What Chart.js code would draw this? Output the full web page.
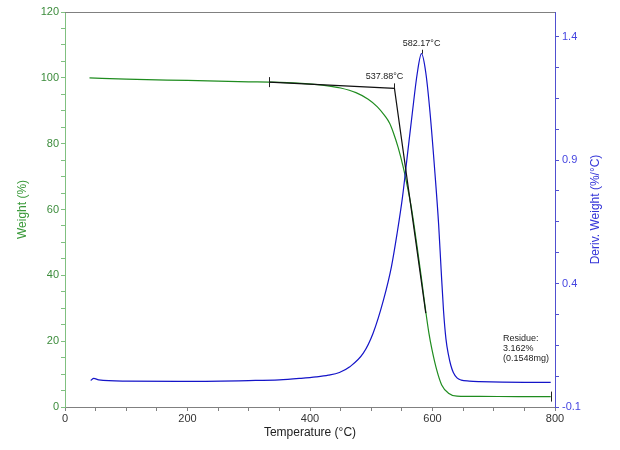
<!DOCTYPE html>
<html>
<head>
<meta charset="utf-8">
<script src="https://cdn.jsdelivr.net/npm/chart.js@4"></script>
<style>
  html, body { margin: 0; padding: 0; background: #fff; }
  #wrap { width: 620px; height: 450px; }
</style>
</head>
<body>
<div id="wrap"><canvas id="tga"></canvas></div>
<script>
// Weight loss curve (%)
const weightTemps = [40, 100, 200, 300, 333, 380, 420, 450, 475, 495, 510, 522, 530, 536, 544, 552, 560, 566, 575, 582, 589, 594, 599, 607, 615, 626, 640, 677, 740, 793];
const weightVals  = [100.0, 99.6, 99.2, 98.8, 98.7, 98.4, 97.8, 96.9, 95.5, 93.5, 91.2, 88.5, 86.2, 83.4, 78.8, 73.0, 66.0, 60.0, 48.5, 39.0, 29.0, 22.6, 17.6, 11.2, 6.7, 4.2, 3.3, 3.2, 3.17, 3.16];

// Derivative weight curve (%/°C)
const dtgTemps = [42, 47, 55, 100, 200, 300, 350, 384, 410, 430, 448, 465, 487, 503, 520, 533, 542, 551, 559, 567, 575, 582, 589, 596, 604, 610, 614, 618, 622, 626, 630, 634, 640, 647, 660, 677, 750, 793];
const dtgVals  = [0.007, 0.016, 0.010, 0.005, 0.004, 0.007, 0.010, 0.016, 0.022, 0.029, 0.040, 0.063, 0.118, 0.199, 0.334, 0.469, 0.600, 0.750, 0.920, 1.090, 1.250, 1.331, 1.255, 1.092, 0.847, 0.640, 0.460, 0.290, 0.175, 0.112, 0.068, 0.040, 0.018, 0.009, 0.005, 0.003, 0.000, 0.000];

// Onset construction lines
const tangentTemps = [333, 537.88, 589];
const tangentVals  = [98.7, 96.8, 28.5];

const onsetTemp = 537.88, onsetWeight = 96.8;
const peakTemp = 582.17, peakDeriv = 1.331;
const residueLines = ['Residue:', '3.162%', '(0.1548mg)'];
const residueAt = { x: 715, y: 20.7 };

const xLabels = [0, 200, 400, 600, 800];
const weightLabels = [0, 20, 40, 60, 80, 100, 120];
const derivLabels = [-0.1, 0.4, 0.9, 1.4];

const green = '#1f8c1f';
const blue = '#1414c8';
const fontName = "'Liberation Sans', Arial, sans-serif";

const toXY = (xs, ys) => xs.map((x, i) => ({ x: x, y: ys[i] }));

// tick marks at every minor step, labels only on the listed ones
function minorTicks(labels, parts) {
    const out = [];
    const step = (labels[1] - labels[0]) / parts;
    for (let i = 0; i < labels.length - 1; i++) {
        for (let k = 0; k < parts; k++) out.push({ value: +(labels[i] + k * step).toFixed(4) });
    }
    out.push({ value: labels[labels.length - 1] });
    return out;
}

const extras = {
    id: 'extras',
    afterDatasetsDraw(chart) {
        const { ctx, chartArea, scales } = chart;
        const x = scales.x, y = scales.y, y1 = scales.y1;
        ctx.save();
        // top frame line
        ctx.strokeStyle = '#808080';
        ctx.lineWidth = 1;
        ctx.beginPath();
        ctx.moveTo(chartArea.left, chartArea.top + 0.5);
        ctx.lineTo(chartArea.right, chartArea.top + 0.5);
        ctx.stroke();

        // small vertical markers
        ctx.strokeStyle = '#222';
        const mark = (px, py, up, down) => {
            ctx.beginPath();
            ctx.moveTo(Math.round(px) + 0.5, py - up);
            ctx.lineTo(Math.round(px) + 0.5, py + down);
            ctx.stroke();
        };
        mark(x.getPixelForValue(tangentTemps[0]), y.getPixelForValue(tangentVals[0]), 5, 5);
        mark(x.getPixelForValue(weightTemps[weightTemps.length - 1]), y.getPixelForValue(weightVals[weightVals.length - 1]), 5, 5);
        const ox = x.getPixelForValue(onsetTemp), oy = y.getPixelForValue(onsetWeight);
        const pxk = x.getPixelForValue(peakTemp), pyk = y1.getPixelForValue(peakDeriv);
        mark(ox, oy, 5, 0);
        mark(pxk, pyk, 4, 0);

        ctx.fillStyle = '#222';
        ctx.font = '9px ' + fontName;
        ctx.textAlign = 'center';
        ctx.textBaseline = 'bottom';
        ctx.fillText(onsetTemp.toFixed(2) + '°C', ox - 10, oy - 7);
        ctx.fillText(peakTemp.toFixed(2) + '°C', pxk, pyk - 6);

        ctx.textAlign = 'left';
        ctx.textBaseline = 'middle';
        const rx = x.getPixelForValue(residueAt.x), ry = y.getPixelForValue(residueAt.y);
        residueLines.forEach((t, i) => ctx.fillText(t, rx, ry + i * 10));

        // axis titles
        ctx.font = '12px ' + fontName;
        ctx.textAlign = 'center';
        ctx.fillStyle = '#222';
        ctx.fillText('Temperature (°C)', (chartArea.left + chartArea.right) / 2, 433);
        const midY = (chartArea.top + chartArea.bottom) / 2;
        ctx.save();
        ctx.translate(23, midY);
        ctx.rotate(-Math.PI / 2);
        ctx.fillStyle = '#3a9a3a';
        ctx.fillText('Weight (%)', 0, 0);
        ctx.restore();
        ctx.save();
        ctx.translate(596, midY);
        ctx.rotate(-Math.PI / 2);
        ctx.fillStyle = '#3535d8';
        ctx.fillText('Deriv. Weight (%/°C)', 0, 0);
        ctx.restore();
        ctx.restore();
    }
};

new Chart(document.getElementById('tga'), {
    type: 'line',
    data: {
        datasets: [
            {
                data: toXY(weightTemps, weightVals),
                borderColor: green, borderWidth: 1.2,
                cubicInterpolationMode: 'monotone',
                pointRadius: 0, yAxisID: 'y', order: 3
            },
            {
                data: toXY(dtgTemps, dtgVals),
                borderColor: blue, borderWidth: 1.2,
                cubicInterpolationMode: 'monotone',
                pointRadius: 0, yAxisID: 'y1', order: 2
            },
            {
                data: toXY(tangentTemps, tangentVals),
                borderColor: '#111', borderWidth: 1.2,
                tension: 0, pointRadius: 0, yAxisID: 'y', order: 1
            }
        ]
    },
    options: {
        responsive: true,
        maintainAspectRatio: false,
        animation: false,
        layout: { padding: { top: 12, left: 0, right: 0, bottom: 0 } },
        plugins: { legend: { display: false }, tooltip: { enabled: false } },
        scales: {
            x: {
                type: 'linear', position: 'bottom', min: 0, max: 800,
                afterBuildTicks: s => { s.ticks = minorTicks(xLabels, 4); },
                afterFit: s => { s.height = 43; },
                ticks: {
                    autoSkip: false, maxRotation: 0, padding: 1, color: '#333',
                    font: { family: fontName, size: 11 },
                    callback: v => xLabels.includes(v) ? v : ''
                },
                grid: { drawOnChartArea: false, tickLength: 4, tickColor: '#808080' },
                border: { color: '#808080' }
            },
            y: {
                position: 'left', min: 0, max: 120,
                afterBuildTicks: s => { s.ticks = minorTicks(weightLabels, 4); },
                afterFit: s => { s.width = 65; },
                ticks: {
                    autoSkip: false, padding: 2, color: '#3c8c3c',
                    font: { family: fontName, size: 11 },
                    callback: v => weightLabels.includes(v) ? v : ''
                },
                grid: { drawOnChartArea: false, tickLength: 4, tickColor: '#80c080' },
                border: { color: '#80c080' }
            },
            y1: {
                position: 'right', min: -0.1, max: 1.5,
                afterBuildTicks: s => { s.ticks = minorTicks(derivLabels, 4); },
                afterFit: s => { s.width = 65; },
                ticks: {
                    autoSkip: false, padding: 3, color: '#4545e0',
                    font: { family: fontName, size: 11 },
                    callback: v => derivLabels.includes(v) ? v : ''
                },
                grid: { drawOnChartArea: false, tickLength: 4, tickColor: '#5050d0' },
                border: { color: '#5050d0' }
            }
        }
    },
    plugins: [extras]
});
</script>
</body>
</html>
